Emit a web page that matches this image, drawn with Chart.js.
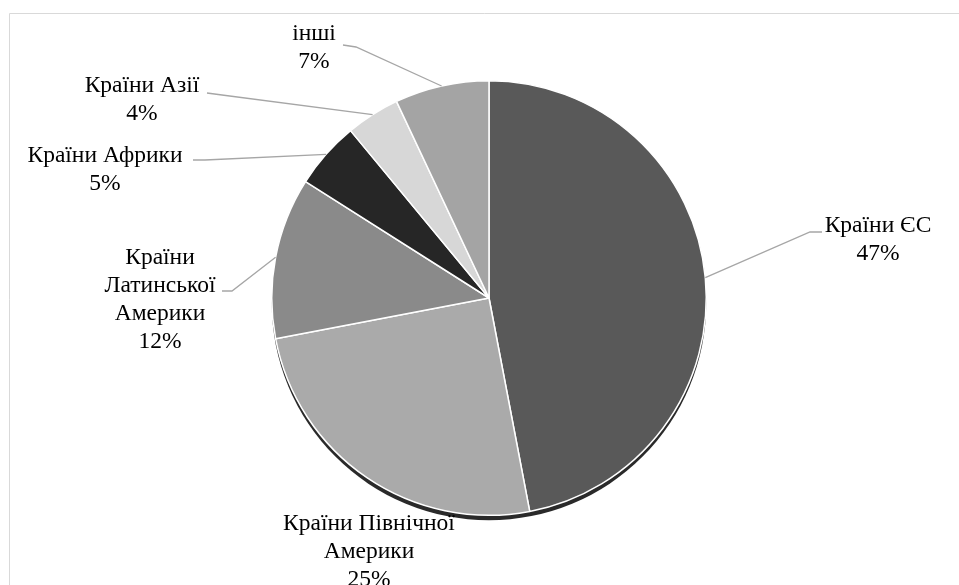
<!DOCTYPE html>
<html>
<head>
<meta charset="utf-8">
<script src="https://cdn.jsdelivr.net/npm/chart.js@4.4.0/dist/chart.umd.min.js"></script>
<style>
  html, body { margin: 0; padding: 0; background: #ffffff; }
  #wrap { width: 959px; height: 585px; position: relative; }
</style>
</head>
<body>
<div id="wrap"><canvas id="c" width="959" height="585"></canvas></div>
<script>
// ---- data ----
const categories = [
  ['Країни ЄС'],
  ['Країни Північної', 'Америки'],
  ['Країни', 'Латинської', 'Америки'],
  ['Країни Африки'],
  ['Країни Азії'],
  ['інші']
];
const shares = [47, 25, 12, 5, 4, 7];
const percentLabels = ['47%', '25%', '12%', '5%', '4%', '7%'];

// ---- styling ----
const sliceColors = ['#595959', '#aaaaaa', '#8a8a8a', '#262626', '#d7d7d7', '#a4a4a4'];
// label block: centre x, first line y, elbow start point, elbow bend point (null = no leader)
const labelLayout = [
  { cx: 878, y: 226, start: [822, 232], bend: [810, 232] },
  { cx: 369, y: 524, start: null, bend: null },
  { cx: 160, y: 258, start: [222, 291], bend: [232, 291] },
  { cx: 105, y: 156, start: [193, 160], bend: [205, 160] },
  { cx: 142, y: 86,  start: [207, 93],  bend: [222, 95] },
  { cx: 314, y: 34,  start: [343, 45],  bend: [356, 47] }
];
const FONT = '23.5px "Liberation Serif", "Times New Roman", serif';
const LINE_H = 28;

const framePlugin = {
  id: 'frame',
  beforeDraw(chart) {
    const ctx = chart.ctx;
    ctx.save();
    ctx.strokeStyle = '#d9d9d9';
    ctx.lineWidth = 1;
    ctx.beginPath();
    ctx.moveTo(9.5, 600);
    ctx.lineTo(9.5, 13.5);
    ctx.lineTo(1000, 13.5);
    ctx.stroke();
    ctx.restore();
  }
};

const shadowPlugin = {
  id: 'pieShadow',
  beforeDatasetsDraw(chart) {
    const arcs = chart.getDatasetMeta(0).data;
    if (!arcs.length) return;
    const a = arcs[0];
    const ctx = chart.ctx;
    ctx.save();
    ctx.fillStyle = '#2a2a2a';
    ctx.beginPath();
    ctx.arc(a.x, a.y + 5, a.outerRadius, 0, Math.PI * 2);
    ctx.fill();
    ctx.restore();
  }
};

const labelPlugin = {
  id: 'pieLabels',
  afterDatasetsDraw(chart) {
    const arcs = chart.getDatasetMeta(0).data;
    const ctx = chart.ctx;
    ctx.save();
    arcs.forEach((arc, i) => {
      const L = labelLayout[i];
      const mid = (arc.startAngle + arc.endAngle) / 2;
      const ex = arc.x + Math.cos(mid) * arc.outerRadius;
      const ey = arc.y + Math.sin(mid) * arc.outerRadius;
      if (L.start) {
        ctx.strokeStyle = '#a6a6a6';
        ctx.lineWidth = 1.3;
        ctx.beginPath();
        ctx.moveTo(L.start[0], L.start[1]);
        ctx.lineTo(L.bend[0], L.bend[1]);
        ctx.lineTo(ex, ey);
        ctx.stroke();
      }
      ctx.fillStyle = '#000000';
      ctx.font = FONT;
      ctx.textAlign = 'center';
      ctx.textBaseline = 'middle';
      const lines = categories[i].concat([percentLabels[i]]);
      lines.forEach((t, k) => ctx.fillText(t, L.cx, L.y + k * LINE_H));
    });
    ctx.restore();
  }
};

new Chart(document.getElementById('c'), {
  type: 'pie',
  data: {
    labels: categories.map(c => c.join(' ')),
    datasets: [{
      data: shares,
      backgroundColor: sliceColors,
      borderColor: '#ffffff',
      borderWidth: 1.5
    }]
  },
  options: {
    responsive: false,
    animation: false,
    layout: { padding: { top: 80, bottom: 69, left: 271, right: 252 } },
    plugins: {
      legend: { display: false },
      tooltip: { enabled: false },
      title: { display: false }
    }
  },
  plugins: [framePlugin, shadowPlugin, labelPlugin]
});
</script>
</body>
</html>
